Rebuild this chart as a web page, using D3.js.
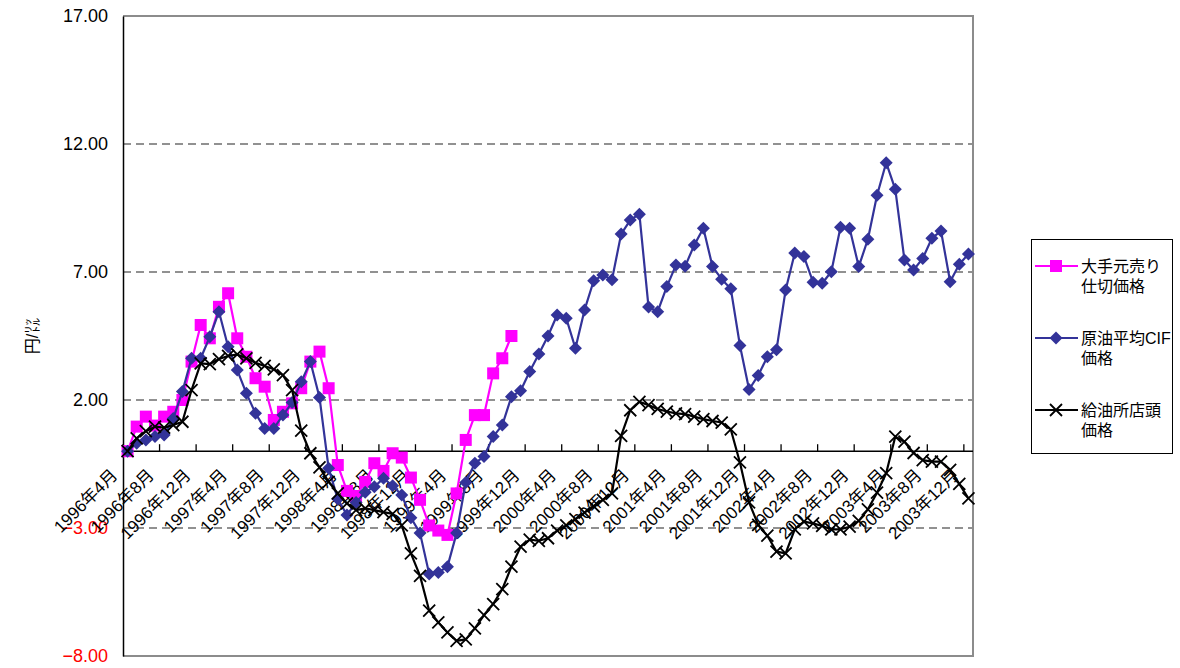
<!DOCTYPE html>
<html>
<head>
<meta charset="utf-8">
<script src="https://cdn.jsdelivr.net/npm/d3@7"></script>
<style>
  body { margin: 0; background: #fff; }
  svg { display: block; }
  text { font-family: "Liberation Sans", Arial, "Noto Sans CJK JP", sans-serif; }
</style>
</head>
<body>
<svg id="chart" width="1180" height="668"></svg>
<script>
// Monthly categories, April 1996 – December 2003
const startYear = 1996, startMonth = 4, monthCount = 93;
const months = d3.range(monthCount).map(i => {
  const m = startMonth - 1 + i;
  return `${startYear + Math.floor(m / 12)}年${(m % 12) + 1}月`;
});

// Axis labels shown every four months
const tickLabels = [
  "1996年4月", "1996年8月", "1996年12月", "1997年4月", "1997年8月", "1997年12月",
  "1998年4月", "1998年8月", "1998年12月", "1999年4月", "1999年8月", "1999年12月",
  "2000年4月", "2000年8月", "2000年12月", "2001年4月", "2001年8月", "2001年12月",
  "2002年4月", "2002年8月", "2002年12月", "2003年4月", "2003年8月", "2003年12月"
];
const yTicks = [17, 12, 7, 2, -3, -8];

// 大手元売り仕切価格 (change vs. April 1996, 円/ℓ)
const wholesale = [
  0, 0.96, 1.35, 1.0, 1.35, 1.54, 2.0, 3.5, 4.93, 4.41,
  5.64, 6.17, 4.41, 3.69, 2.85, 2.52, 1.22, 1.54, 1.87, 2.46,
  3.5, 3.89, 2.46, -0.54, -1.55, -1.75, -1.2, -0.47, -0.77, -0.08,
  -0.25, -1.03, -1.9, -2.9, -3.1, -3.27, -1.65, 0.44, 1.41, 1.41,
  3.04, 3.63, 4.5
];

// 原油平均CIF価格
const crudeCif = [
  0, 0.31, 0.44, 0.57, 0.63, 1.28, 2.33, 3.63, 3.63, 4.47,
  5.45, 4.08, 3.17, 2.26, 1.48, 0.89, 0.89, 1.41, 1.9, 2.71,
  3.5, 2.1, -0.67, -1.87, -2.49, -2.0, -1.6, -1.39, -1.06, -1.35,
  -1.71, -2.6, -3.2, -4.8, -4.74, -4.51, -3.2, -1.22, -0.47, -0.21,
  0.57, 1.02, 2.13, 2.36, 3.11, 3.8, 4.5, 5.32, 5.19, 4.02,
  5.52, 6.66, 6.88, 6.7, 8.48, 9.03, 9.26, 5.63, 5.45, 6.43,
  7.27, 7.22, 8.05, 8.71, 7.21, 6.72, 6.35, 4.13, 2.41, 2.96,
  3.69, 3.96, 6.3, 7.74, 7.61, 6.6, 6.56, 7.01, 8.75, 8.71,
  7.21, 8.28, 10.0, 11.27, 10.23, 7.47, 7.08, 7.53, 8.32, 8.6,
  6.62, 7.3, 7.7
];

// 給油所店頭価格
const retail = [
  0, 0.5, 0.78, 0.96, 0.92, 1.02, 1.15, 2.39, 3.43, 3.4,
  3.6, 3.72, 3.78, 3.63, 3.45, 3.33, 3.2, 2.97, 2.39, 0.8,
  -0.08, -0.63, -1.2, -1.65, -2.04, -2.3, -2.23, -2.3, -2.38, -2.45,
  -2.9, -3.99, -4.87, -6.23, -6.69, -7.08, -7.41, -7.35, -6.92, -6.4,
  -5.97, -5.39, -4.51, -3.73, -3.45, -3.5, -3.4, -3.1, -2.9, -2.65,
  -2.4, -2.15, -1.9, -1.65, 0.6, 1.6, 1.93, 1.8, 1.65, 1.55,
  1.48, 1.45, 1.35, 1.25, 1.18, 1.12, 0.85, -0.44, -2.0, -2.88,
  -3.3, -3.92, -3.99, -3.05, -2.75, -2.82, -2.92, -3.05, -3.05, -2.95,
  -2.72, -2.27, -1.62, -0.86, 0.57, 0.37, -0.07, -0.35, -0.41, -0.41,
  -0.73, -1.28, -1.84
];

const seriesDefs = [
  { name: ["大手元売り", "仕切価格"], values: wholesale, color: "#ff00ff", marker: "square" },
  { name: ["原油平均CIF", "価格"], values: crudeCif, color: "#333399", marker: "diamond" },
  { name: ["給油所店頭", "価格"], values: retail, color: "#000000", marker: "cross" }
];

const svg = d3.select("#chart");
const plot = { left: 123, right: 973, top: 16, bottom: 656 };

const x = d3.scaleBand().domain(months).range([plot.left, plot.right]).padding(0);
const y = d3.scaleLinear().domain([-8, 17]).range([plot.bottom, plot.top]);
const cx = i => x(months[i]) + x.bandwidth() / 2;

// Dashed horizontal gridlines
svg.append("g").selectAll("line")
  .data(yTicks.filter(v => v !== 17 && v !== -8))
  .join("line")
  .attr("x1", plot.left).attr("x2", plot.right)
  .attr("y1", d => y(d)).attr("y2", d => y(d))
  .attr("stroke", "#6e6e6e").attr("stroke-width", 1.3)
  .attr("stroke-dasharray", "8,5");

// Plot area frame
svg.append("path")
  .attr("d", `M${plot.left},${plot.top}H${plot.right}V${plot.bottom}H${plot.left}`)
  .attr("fill", "none").attr("stroke", "#8c8c8c").attr("stroke-width", 2);

// Value axis
const yAxis = d3.axisLeft(y).tickValues(yTicks).tickSize(0).tickFormat(d3.format(".2f"));
const gy = svg.append("g").attr("transform", `translate(${plot.left},0)`).call(yAxis);
gy.select(".domain").attr("stroke", "#000").attr("stroke-width", 1.5);
gy.selectAll("text")
  .attr("x", -15)
  .attr("font-size", 18)
  .attr("font-family", "'Liberation Sans', Arial, sans-serif")
  .attr("fill", d => d < 0 ? "#ff0000" : "#000");

// Category axis at zero
const xAxisY = y(0);
svg.append("line")
  .attr("x1", plot.left).attr("x2", plot.right)
  .attr("y1", xAxisY).attr("y2", xAxisY)
  .attr("stroke", "#000").attr("stroke-width", 1.5);
svg.append("g").selectAll("line")
  .data(tickLabels)
  .join("line")
  .attr("x1", d => x(d)).attr("x2", d => x(d))
  .attr("y1", xAxisY).attr("y2", xAxisY - 7)
  .attr("stroke", "#000").attr("stroke-width", 1.3);
svg.append("g").selectAll("text")
  .data(tickLabels)
  .join("text")
  .attr("transform", d => `translate(${x(d) + x.bandwidth() / 2 - 9},${xAxisY + 25}) rotate(-45)`)
  .attr("text-anchor", "end")
  .attr("font-size", 17)
  .attr("fill", "#000")
  .text(d => d);

// Axis title
svg.append("text")
  .attr("transform", "translate(38,336) rotate(-90)")
  .attr("text-anchor", "middle")
  .attr("font-size", 16)
  .attr("font-family", "'Noto Sans CJK JP', sans-serif")
  .text("円/㍑");

// Marker shapes
function drawMarker(g, type, color, size) {
  const h = size / 2;
  if (type === "square") {
    g.append("rect").attr("x", -h).attr("y", -h).attr("width", size).attr("height", size)
      .attr("fill", color);
  } else if (type === "diamond") {
    g.append("path").attr("d", `M0,${-h}L${h},0L0,${h}L${-h},0Z`).attr("fill", color);
  } else {
    g.append("path").attr("d", `M${-h},${-h}L${h},${h}M${-h},${h}L${h},${-h}`)
      .attr("stroke", color).attr("stroke-width", 1.8).attr("fill", "none");
  }
}
const markerSize = { square: 12, diamond: 13, cross: 12 };

const line = d3.line().x((d, i) => cx(i)).y(d => y(d));

seriesDefs.forEach(s => {
  const g = svg.append("g");
  g.append("path")
    .datum(s.values)
    .attr("d", line)
    .attr("fill", "none")
    .attr("stroke", s.color)
    .attr("stroke-width", 2.2)
    .attr("stroke-linejoin", "round");
  g.selectAll("g.pt")
    .data(s.values)
    .join("g")
    .attr("class", "pt")
    .attr("transform", (d, i) => `translate(${cx(i)},${y(d)})`)
    .each(function () { drawMarker(d3.select(this), s.marker, s.color, markerSize[s.marker]); });
});

// Legend
const legend = svg.append("g");
legend.append("rect")
  .attr("x", 1031.5).attr("y", 239.5).attr("width", 141).attr("height", 214)
  .attr("fill", "#fff").attr("stroke", "#000").attr("stroke-width", 1);
const legendRows = [266, 338, 410];
seriesDefs.forEach((s, k) => {
  const ly = legendRows[k];
  legend.append("line")
    .attr("x1", 1035).attr("x2", 1078).attr("y1", ly).attr("y2", ly)
    .attr("stroke", s.color).attr("stroke-width", 2.2);
  drawMarker(legend.append("g").attr("transform", `translate(1056,${ly})`), s.marker, s.color, markerSize[s.marker]);
  s.name.forEach((t, j) => {
    legend.append("text")
      .attr("x", 1081).attr("y", ly + 6 + j * 20)
      .attr("font-size", 16)
      .attr("fill", "#000")
      .text(t);
  });
});
</script>
</body>
</html>
